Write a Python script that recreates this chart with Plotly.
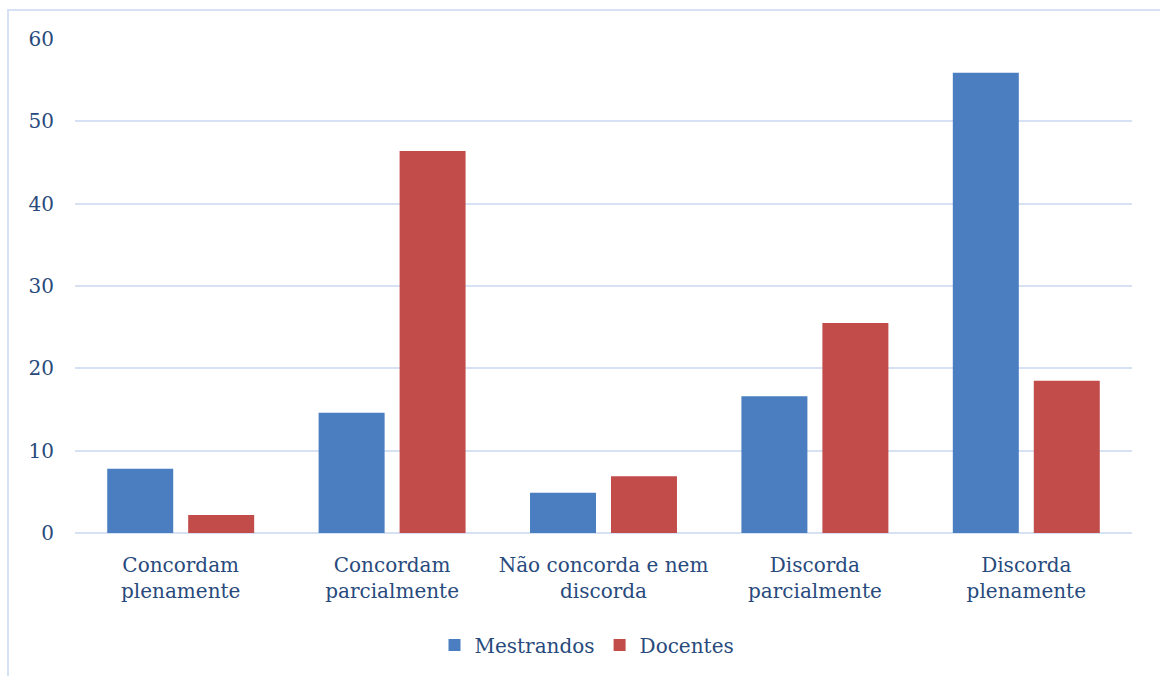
import plotly.graph_objects as go

categories = ["Concordam<br>plenamente", "Concordam<br>parcialmente",
              "Não concorda e nem<br>discorda", "Discorda<br>parcialmente",
              "Discorda<br>plenamente"]
mestrandos = [7.8, 14.6, 4.9, 16.6, 55.9]
docentes = [2.2, 46.4, 6.9, 25.5, 18.5]
series_names = ["Mestrandos", "Docentes"]
y_ticks = [0, 10, 20, 30, 40, 50, 60]

TEXT = "#284a7c"
GRID = "#d6e2f3"
FONT = "DejaVu Serif"

fig = go.Figure()
fig.add_trace(go.Bar(x=categories, y=mestrandos, name=series_names[0],
                     marker=dict(color="#4a7ec0", line=dict(width=0))))
fig.add_trace(go.Bar(x=categories, y=docentes, name=series_names[1],
                     marker=dict(color="#c24c49", line=dict(width=0))))

L, R, T, B = 75, 28, 39, 143
W, H = 1160, 676
pw, ph = W - L - R, H - T - B

fig.update_layout(
    width=W, height=H,
    margin=dict(l=L, r=R, t=T, b=B, pad=0),
    paper_bgcolor="white", plot_bgcolor="white",
    barmode="group", bargap=0.234, bargroupgap=0.185,
    font=dict(family=FONT, size=20, color=TEXT),
    showlegend=True,
    legend=dict(orientation="h", x=(603 - 16 - L) / pw, xanchor="center",
                y=-(645 - 533) / ph, yanchor="middle",
                font=dict(family=FONT, size=20, color=TEXT),
                itemwidth=30, traceorder="normal"),
    xaxis=dict(showgrid=False, showline=False, ticks="", tickfont=dict(size=20),
               ticklabelstandoff=18),
    yaxis=dict(range=[0, 60], tickvals=y_ticks, showgrid=True, gridcolor=GRID,
               gridwidth=2, zeroline=True, zerolinecolor=GRID, zerolinewidth=2,
               showline=False, ticks="", tickfont=dict(size=20),
               ticklabelstandoff=20),
    shapes=[dict(type="rect", xref="paper", yref="paper",
                 x0=(8 - L) / pw, x1=(W + 20 - L) / pw,
                 y0=-(H + 20 - (T + ph)) / ph, y1=(T + ph - 10) / ph,
                 line=dict(color=GRID, width=2), fillcolor="rgba(0,0,0,0)",
                 layer="below")],
)

fig.write_html("out.html")
